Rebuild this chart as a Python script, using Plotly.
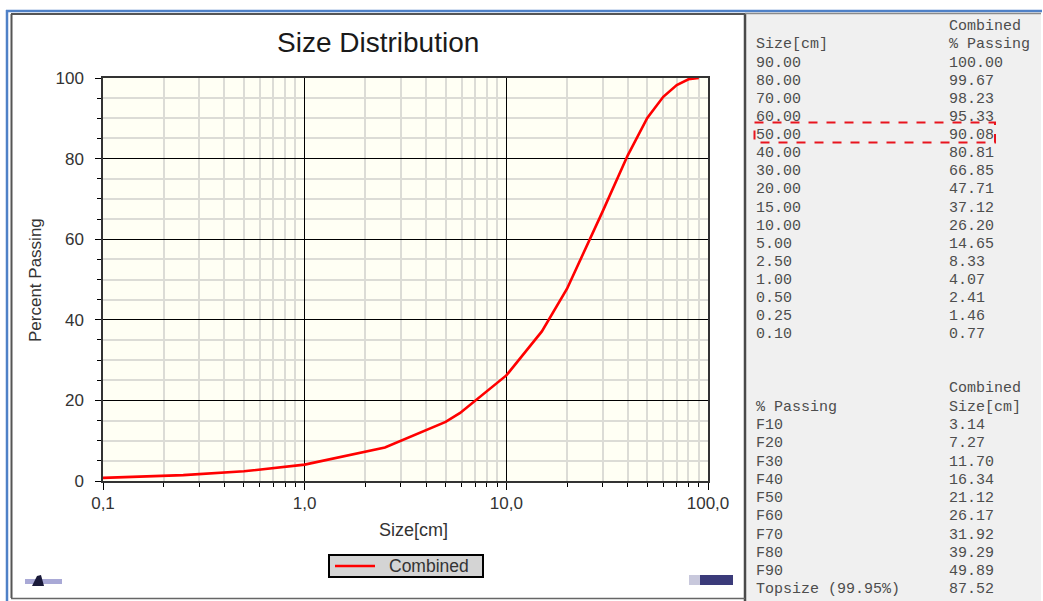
import plotly.graph_objects as go

# ---------------- data ----------------
# curve as drawn (sieve sizes in cm, cumulative % passing)
curve_sizes_cm = [0.10, 0.25, 0.50, 1.00, 2.50, 5.00, 5.90, 10.00, 15.00, 20.00,
                  30.00, 40.00, 50.00, 60.00, 70.00, 80.00, 90.00]
curve_passing_pct = [0.77, 1.46, 2.41, 4.07, 8.33, 14.65, 16.9, 26.20, 37.12, 47.71,
                     66.85, 80.81, 90.08, 95.33, 98.23, 99.67, 100.00]

table_sizes = ["90.00", "80.00", "70.00", "60.00", "50.00", "40.00", "30.00",
               "20.00", "15.00", "10.00", "5.00", "2.50", "1.00", "0.50",
               "0.25", "0.10"]
table_passing = ["100.00", "99.67", "98.23", "95.33", "90.08", "80.81", "66.85",
                 "47.71", "37.12", "26.20", "14.65", "8.33", "4.07", "2.41",
                 "1.46", "0.77"]
highlight_size = "50.00"

f_labels = ["F10", "F20", "F30", "F40", "F50", "F60", "F70", "F80", "F90",
            "Topsize (99.95%)"]
f_sizes = ["3.14", "7.27", "11.70", "16.34", "21.12", "26.17", "31.92",
           "39.29", "49.89", "87.52"]

x_tick_vals = [0.1, 1, 10, 100]
x_tick_text = ["0,1", "1,0", "10,0", "100,0"]
x_minor_vals = [m * 10 ** e for e in (-1, 0, 1) for m in range(2, 10)]
y_tick_vals = [0, 20, 40, 60, 80, 100]
y_minor_vals = [v for v in range(5, 100, 5) if v % 20 != 0]

series_name = "Combined"
title_text = "Size Distribution"
x_title = "Size[cm]"
y_title = "Percent Passing"

# ---------------- layout geometry (pixels) ----------------
W, H = 1043, 601
PL, PR, PT, PB = 103, 708, 78, 481  # plot area edges


def px(x):
    return (x - PL) / (PR - PL)


def py(y):
    return (PB - y) / (PB - PT)


ARIAL = "Liberation Sans, Arial, sans-serif"
MONO = "Liberation Mono, Courier New, monospace"
TXT = "#333333"
TABLE_TXT = "#4d4d4d"

fig = go.Figure()
fig.add_trace(go.Scatter(
    x=curve_sizes_cm, y=curve_passing_pct, mode="lines", name=series_name,
    line=dict(color="#ff0000", width=2.6), showlegend=False,
))

fig.update_layout(
    width=W, height=H,
    margin=dict(l=PL, r=W - PR, t=PT, b=H - PB, pad=0),
    paper_bgcolor="white",
    plot_bgcolor="#fffff4",
    showlegend=False,
)

fig.update_xaxes(
    type="log", range=[-1, 2],
    tickmode="array", tickvals=x_tick_vals, ticktext=x_tick_text,
    ticks="outside", ticklen=7, tickcolor="black", tickwidth=1,
    showgrid=True, gridcolor="black", gridwidth=1,
    showline=True, linecolor="#333333", linewidth=1.5, mirror=True,
    tickfont=dict(family=ARIAL, size=17, color=TXT),
    ticklabelstandoff=-1,
    zeroline=False,
    minor=dict(tickmode="array", tickvals=x_minor_vals, ticks="outside",
               ticklen=4, tickcolor="black", tickwidth=1,
               showgrid=True, gridcolor="#dcdcd6", gridwidth=1.6),
)
fig.update_yaxes(
    range=[0, 100],
    tickmode="array", tickvals=y_tick_vals,
    ticks="outside", ticklen=6, tickcolor="black", tickwidth=1,
    showgrid=True, gridcolor="black", gridwidth=1,
    showline=True, linecolor="#333333", linewidth=1.5, mirror=True,
    tickfont=dict(family=ARIAL, size=17, color=TXT),
    ticklabelstandoff=8,
    zeroline=False,
    minor=dict(tickmode="array", tickvals=y_minor_vals, ticks="outside",
               ticklen=4, tickcolor="black", tickwidth=1,
               showgrid=True, gridcolor="#dcdcd6", gridwidth=1.6),
)

shapes = []
annotations = []

# outer frame (blue) and inner chart frame (dark grey)
shapes.append(dict(type="line", xref="paper", yref="paper",
                   x0=px(6), x1=px(1042), y0=py(11), y1=py(11),
                   line=dict(color="#4f81c7", width=2.5)))
shapes.append(dict(type="line", xref="paper", yref="paper",
                   x0=px(7), x1=px(7), y0=py(10), y1=py(602),
                   line=dict(color="#4f81c7", width=2.5)))
# right panel
shapes.append(dict(type="rect", xref="paper", yref="paper",
                   x0=px(745), x1=px(1041), y0=py(13), y1=py(602),
                   fillcolor="#f0f0f0", line=dict(width=0)))
shapes.append(dict(type="line", xref="paper", yref="paper",
                   x0=px(745), x1=px(745), y0=py(13), y1=py(602),
                   line=dict(color="#4a4a4a", width=2.5)))
shapes.append(dict(type="line", xref="paper", yref="paper",
                   x0=px(745), x1=px(1041), y0=py(13.5), y1=py(13.5),
                   line=dict(color="#8a8a8a", width=1.5)))
# chart panel inner border
shapes.append(dict(type="line", xref="paper", yref="paper",
                   x0=px(11), x1=px(745), y0=py(14), y1=py(14),
                   line=dict(color="#555555", width=2)))
shapes.append(dict(type="line", xref="paper", yref="paper",
                   x0=px(11.5), x1=px(11.5), y0=py(14), y1=py(598),
                   line=dict(color="#555555", width=2)))
shapes.append(dict(type="line", xref="paper", yref="paper",
                   x0=px(11), x1=px(745), y0=py(598.5), y1=py(598.5),
                   line=dict(color="#666666", width=1.5)))

# legend box (drawn)
shapes.append(dict(type="rect", xref="paper", yref="paper",
                   x0=px(329), x1=px(483), y0=py(555), y1=py(577),
                   fillcolor="#d4d4d4", line=dict(color="black", width=2)))
shapes.append(dict(type="line", xref="paper", yref="paper",
                   x0=px(335), x1=px(375), y0=py(566), y1=py(566),
                   line=dict(color="#ff0000", width=2.6)))
annotations.append(dict(text=series_name, xref="paper", yref="paper",
                        x=px(387), y=py(566), xanchor="left", yanchor="middle",
                        showarrow=False,
                        font=dict(family=ARIAL, size=17.5, color=TXT)))

# small logos (decorative)
shapes.append(dict(type="rect", xref="paper", yref="paper",
                   x0=px(25), x1=px(62), y0=py(579), y1=py(584),
                   fillcolor="#a9a9d6", line=dict(width=0)))
shapes.append(dict(type="path", xref="paper", yref="paper",
                   path=f"M {px(32)},{py(586)} L {px(44)},{py(586)} L {px(41)},{py(575)} L {px(37)},{py(576)} Z",
                   fillcolor="#1a1a3a", line=dict(width=0)))
shapes.append(dict(type="rect", xref="paper", yref="paper",
                   x0=px(689), x1=px(733), y0=py(575), y1=py(585),
                   fillcolor="#3b3b7a", line=dict(width=0)))
shapes.append(dict(type="rect", xref="paper", yref="paper",
                   x0=px(689), x1=px(700), y0=py(575), y1=py(585),
                   fillcolor="#c8c8dc", line=dict(width=0)))

# titles
annotations.append(dict(text=title_text, xref="paper", yref="paper",
                        x=px(378), y=py(42), xanchor="center", yanchor="middle",
                        showarrow=False,
                        font=dict(family=ARIAL, size=28, color="#1a1a1a")))
annotations.append(dict(text=x_title, xref="paper", yref="paper",
                        x=px(413), y=py(530), xanchor="center", yanchor="middle",
                        showarrow=False,
                        font=dict(family=ARIAL, size=18, color=TXT)))
annotations.append(dict(text=y_title, xref="paper", yref="paper",
                        x=px(35), y=py(280), xanchor="center", yanchor="middle",
                        textangle=-90, showarrow=False,
                        font=dict(family=ARIAL, size=17, color=TXT)))

# right side tables
COL1, COL2 = 753.5, 947
DY = 1.5


def table_text(txt, x, y):
    annotations.append(dict(text=txt, xref="paper", yref="paper",
                            x=px(x), y=py(y + DY), xanchor="left", yanchor="middle",
                            showarrow=False,
                            font=dict(family=MONO, size=15, color=TABLE_TXT)))


table_text(series_name, COL2, 25)
table_text("Size[cm]", COL1, 43.3)
table_text("% Passing", COL2, 43.3)
ROW0, ROWH = 61.7, 18.1
for i, (s, p) in enumerate(zip(table_sizes, table_passing)):
    yy = ROW0 + ROWH * i
    table_text(s, COL1, yy)
    table_text(p, COL2, yy)
    if s == highlight_size:
        shapes.append(dict(type="rect", xref="paper", yref="paper",
                           x0=px(754.5), x1=px(995), y0=py(yy - 11.5), y1=py(yy + 8.5),
                           fillcolor="rgba(0,0,0,0)",
                           line=dict(color="#e8141e", width=2, dash="dash")))

table_text(series_name, COL2, 387.3)
table_text("% Passing", COL1, 405.7)
table_text("Size[cm]", COL2, 405.7)
F0, FH = 424, 18.26
for i, (lab, s) in enumerate(zip(f_labels, f_sizes)):
    yy = F0 + FH * i
    table_text(lab, COL1, yy)
    table_text(s, COL2, yy)

fig.update_layout(shapes=shapes, annotations=annotations)

fig.write_html(
    "out.html",
    post_script="document.body.style.margin='0';document.body.style.overflow='hidden';",
    config={"displayModeBar": False},
)
